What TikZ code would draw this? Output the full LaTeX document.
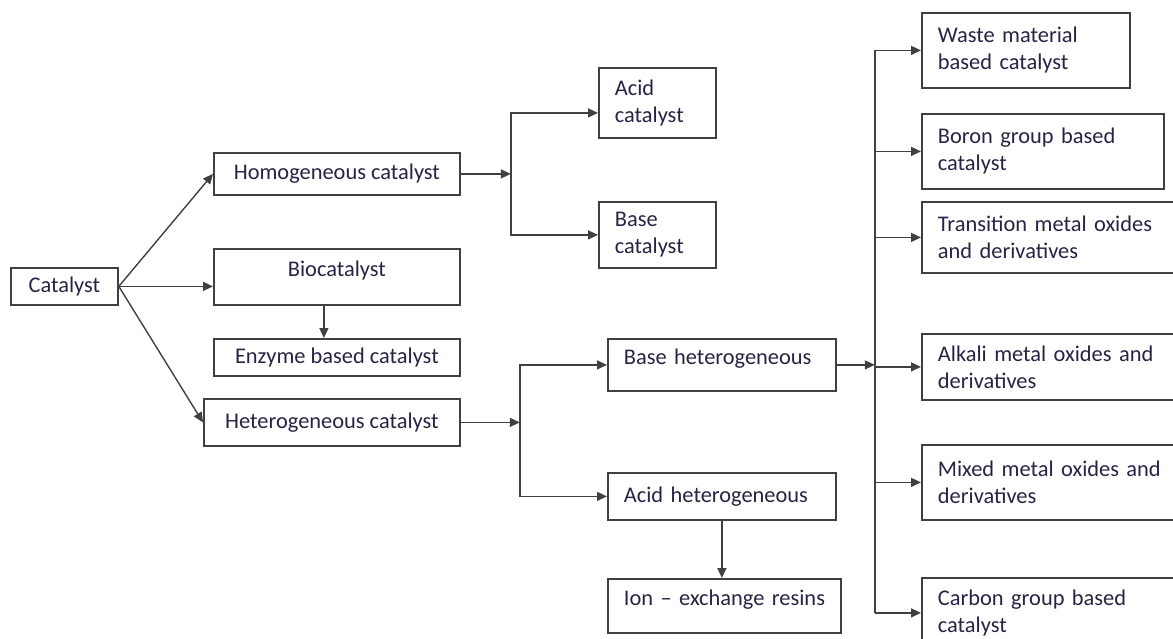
\documentclass[tikz,border=0pt]{standalone}
\usepackage{fontspec}
\setmainfont{Carlito}
\usetikzlibrary{arrows.meta}
\definecolor{ink}{RGB}{38,36,68}
\definecolor{rule}{RGB}{64,64,64}
\tikzset{
  box/.style={draw=rule, line width=0.9pt, text=ink, font=\fontsize{11.2}{13.5}\selectfont,
    anchor=north west, inner xsep=8pt, inner ysep=2pt},
  mid/.style 2 args={box, minimum width=#1, minimum height=#2},
  leaf/.style 2 args={box, align=left, text width=#1, minimum height=#2},
  raised/.style={text depth=8pt},
  link/.style={draw=rule, line width=0.7pt},
  arr/.style={link, -{Triangle[length=5pt,width=4.5pt]}}
}
\begin{document}
\begin{tikzpicture}[x=0.5pt,y=-0.5pt]
\useasboundingbox (0,0) rectangle (1173,638);
% left part
\node[mid={53.5pt}{18.5pt}] (cat) at (10,267) {Catalyst};
\node[mid={123pt}{21pt}] (homo) at (213,152) {Homogeneous catalyst};
\node[mid={123pt}{28pt}, raised] (bio) at (213,248) {Biocatalyst};
\node[mid={123pt}{18.5pt}] (enz) at (213,338) {Enzyme based catalyst};
\node[mid={128pt}{23.5pt}] (het) at (203,398) {Heterogeneous catalyst};
% middle
\node[leaf={42.5pt}{35pt}] (acid) at (598,67) {Acid\\catalyst};
\node[leaf={42.5pt}{33pt}] (base) at (598,201) {Base\\catalyst};
\node[leaf={98pt}{26pt}, raised] (basehet) at (607,338) {Base heterogeneous};
\node[leaf={98pt}{23.5pt}] (acidhet) at (607,472) {Acid heterogeneous};
\node[leaf={100.5pt}{27pt}, raised] (ion) at (607,578) {\mbox{Ion -- exchange resins}};
% right column
\node[leaf={88pt}{37.5pt}] (waste) at (921,12) {Waste material\\based catalyst};
\node[leaf={105pt}{37.5pt}] (boron) at (921,113) {Boron group based\\catalyst};
\node[leaf={114pt}{35.5pt}] (trans) at (921,201) {Transition metal oxides\\and derivatives};
\node[leaf={114pt}{33pt}] (alkali) at (921,333) {Alkali metal oxides and\\derivatives};
\node[leaf={114pt}{37.5pt}] (mixed) at (921,444) {Mixed metal oxides and\\derivatives};
\node[leaf={114pt}{35pt}] (carbon) at (921,577) {Carbon group based\\catalyst};

\draw[arr] (cat.east) -- (homo.west);
\draw[arr] (cat.east) -- (cat.east -| bio.west);
\draw[arr] (cat.east) -- (het.west);
\draw[arr] ([xshift=-6.5pt]bio.south) -- ([xshift=-6.5pt]enz.north);
\draw[arr] (homo.east) -- ++(25pt,0) coordinate (hj);
\draw[arr] (hj) |- ([yshift=-5pt]acid.west);
\draw[arr] (hj) |- (base.west);
\draw[arr] (het.east) -- ++(29.5pt,0) coordinate (hetj);
\draw[arr] (hetj) |- (basehet.west);
\draw[arr] (hetj) |- (acidhet.west);
\draw[arr] (acidhet.south) -- (acidhet.south |- ion.north);
\draw[arr] (basehet.east) -- ++(19pt,0) coordinate (rj);
\draw[link] (rj |- waste.west) -- (rj |- carbon.west);
\foreach \n in {waste,boron,trans,alkali,mixed,carbon}
  \draw[arr] (rj |- \n.west) -- (\n.west);
\end{tikzpicture}
\end{document}
